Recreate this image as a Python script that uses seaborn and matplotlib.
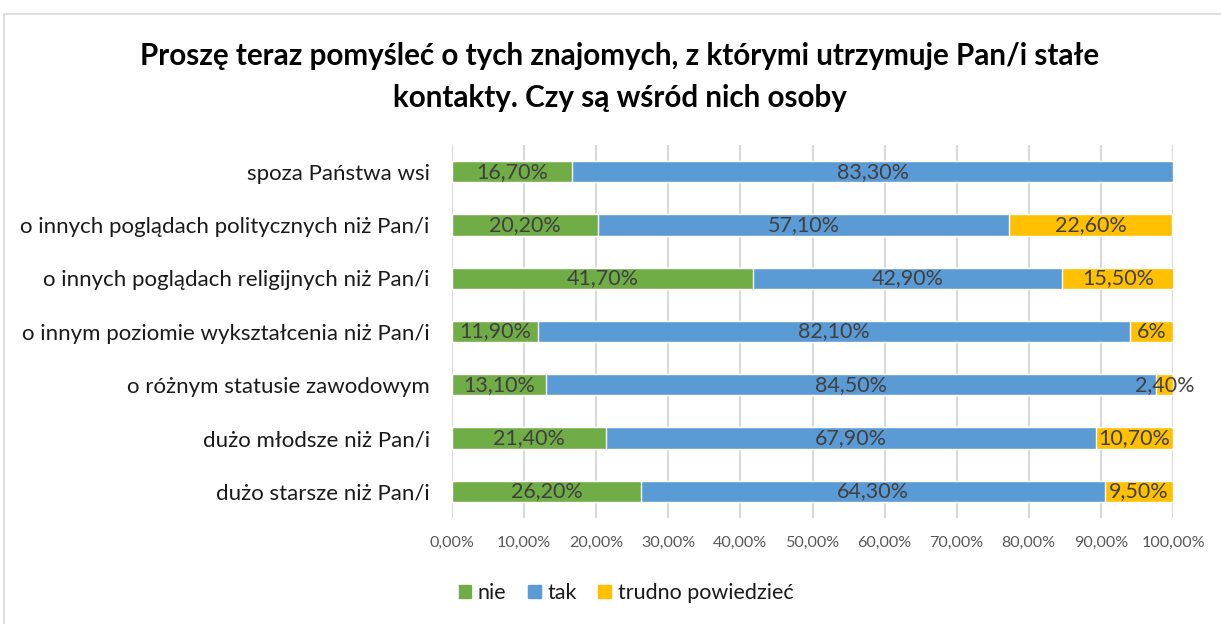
import matplotlib
matplotlib.use("Agg")
import matplotlib.pyplot as plt
import matplotlib.patches as mpatches
import seaborn as sns
import pandas as pd
import numpy as np

categories = [
    "spoza Państwa wsi",
    "o innych poglądach politycznych niż Pan/i",
    "o innych poglądach religijnych niż Pan/i",
    "o innym poziomie wykształcenia niż Pan/i",
    "o różnym statusie zawodowym",
    "dużo młodsze niż Pan/i",
    "dużo starsze niż Pan/i",
]
nie = [16.7, 20.2, 41.7, 11.9, 13.1, 21.4, 26.2]
tak = [83.3, 57.1, 42.9, 82.1, 84.5, 67.9, 64.3]
trudno = [0.0, 22.6, 15.5, 6.0, 2.4, 10.7, 9.5]
nie_labels = ["16,70%", "20,20%", "41,70%", "11,90%", "13,10%", "21,40%", "26,20%"]
tak_labels = ["83,30%", "57,10%", "42,90%", "82,10%", "84,50%", "67,90%", "64,30%"]
trudno_labels = ["", "22,60%", "15,50%", "6%", "2,40%", "10,70%", "9,50%"]
series_names = ["nie", "tak", "trudno powiedzieć"]
colors = ["#70AD47", "#5B9BD5", "#FFC000"]
xticks = [i / 10 for i in range(11)]
xtick_labels = ["0,00%", "10,00%", "20,00%", "30,00%", "40,00%", "50,00%",
                "60,00%", "70,00%", "80,00%", "90,00%", "100,00%"]
title = "Proszę teraz pomyśleć o tych znajomych, z którymi utrzymuje Pan/i stałe\nkontakty. Czy są wśród nich osoby"

sns.set_theme(style="white")
plt.rcParams["font.family"] = ["Lato", "DejaVu Sans"]

df = pd.DataFrame({"cat": categories,
                   "nie": np.array(nie) / 100,
                   "tak": np.array(tak) / 100,
                   "trudno": np.array(trudno) / 100})
df["c1"] = df["nie"]
df["c2"] = df["nie"] + df["tak"]
df["c3"] = df["nie"] + df["tak"] + df["trudno"]

fig = plt.figure(figsize=(12.21, 6.24), dpi=100)
ax = fig.add_axes([452 / 1221, 1 - 518 / 624, (1173 - 452) / 1221, (518 - 145) / 624])

sns.barplot(data=df, x="c3", y="cat", orient="h", color=colors[2], width=0.4,
            ax=ax, saturation=1, zorder=2)
sns.barplot(data=df, x="c2", y="cat", orient="h", color=colors[1], width=0.4,
            ax=ax, saturation=1, zorder=3)
sns.barplot(data=df, x="c1", y="cat", orient="h", color=colors[0], width=0.4,
            ax=ax, saturation=1, zorder=4)

lab_color = "#404040"
for i in range(len(categories)):
    segs = [(0, df["nie"][i], nie_labels[i]),
            (df["c1"][i], df["tak"][i], tak_labels[i]),
            (df["c2"][i], df["trudno"][i], trudno_labels[i])]
    for start, w, lab in segs:
        if lab:
            ax.text(start + w / 2, i, lab, ha="center", va="center",
                    fontsize=15.5, color=lab_color, zorder=6)

ax.set_xlim(0, 1)
ax.set_ylim(6.5, -0.5)
ax.set_xticks(xticks)
ax.set_xticklabels(xtick_labels, fontsize=11.6, color="#595959")
ax.tick_params(axis="x", length=0, pad=13)
ax.tick_params(axis="y", length=0, pad=16, labelsize=16, labelcolor="#1a1a1a")
ax.set_xlabel("")
ax.set_ylabel("")
for s in ax.spines.values():
    s.set_visible(False)
ax.grid(axis="x", color="#D9D9D9", linewidth=1.5, zorder=0)
ax.set_axisbelow(True)

fig.text(620 / 1221, 1 - 77 / 624, title, ha="center", va="center",
         fontsize=21.3, fontweight="bold", color="#000000", linespacing=1.58)

handles = [mpatches.Patch(color=c, label=n) for c, n in zip(colors, series_names)]
fig.legend(handles=handles, loc="center", bbox_to_anchor=(626 / 1221, 1 - 593 / 624),
           ncol=3, frameon=False, fontsize=15.5, handlelength=0.6, handleheight=0.6,
           handletextpad=0.3, columnspacing=1.0, labelcolor="#1a1a1a")

fig.patches.append(mpatches.Rectangle((4 / 1221, -0.05), 1.1, 1 - 14 / 624 + 0.05,
                                      transform=fig.transFigure, fill=False,
                                      edgecolor="#D9D9D9", linewidth=1.2))

fig.savefig("out.png", dpi=100)
